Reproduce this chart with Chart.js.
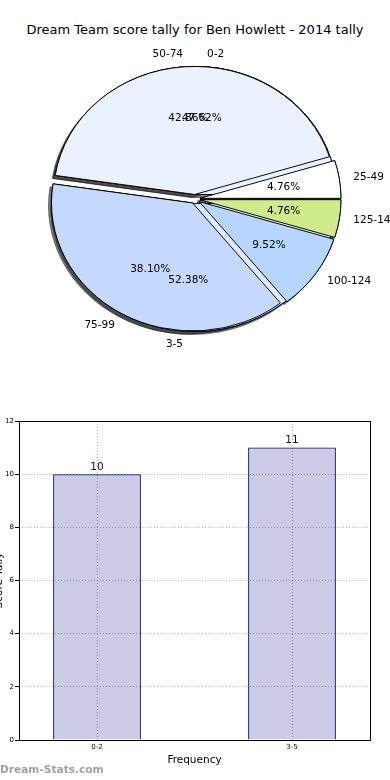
<!DOCTYPE html>
<html>
<head>
<meta charset="utf-8">
<script src="https://cdn.jsdelivr.net/npm/chart.js@4"></script>
<style>
  html, body { margin: 0; padding: 0; width: 390px; height: 780px; overflow: hidden; background: #fff; font-family: "DejaVu Sans", sans-serif; }
  #title { position: absolute; left: 0; top: 22px; width: 390px; text-align: center; font-size: 13px; line-height: 16px; color: #000; }
  #innerPie, #outerPie { position: absolute; left: 0; top: 40px; }
  #innerPie { visibility: hidden; }
  #bars { position: absolute; left: -11px; top: 405px; }
  #mark { position: absolute; left: 0; top: 763px; font-size: 10.6px; line-height: 13px; font-weight: bold; color: #a0a0a0; }
</style>
</head>
<body>
<div id="title">Dream Team score tally for Ben Howlett - 2014 tally</div>
<canvas id="innerPie" width="390" height="318"></canvas>
<canvas id="outerPie" width="390" height="318"></canvas>
<canvas id="bars" width="400" height="375"></canvas>
<div id="mark">Dream-Stats.com</div>
<script>
// score ranges (counterclockwise from 3 o'clock, like the original)
const rangeLabels = ["25-49", "50-74", "75-99", "100-124", "125-149"];
const rangeCounts = [1, 9, 8, 2, 1];
const rangeColors = ["#ffffff", "#eaf1ff", "#c5d9ff", "#b5d6ff", "#cfeb8a"];

// frequency bins
const binLabels = ["0-2", "3-5"];
const binCounts = [10, 11];
const binColors = ["#eaf1ff", "#e2eaff"];

const FONT = "DejaVu Sans";
const PIE_R = 141;      // horizontal radius
const PIE_SY = 0.908;   // pie is squashed a bit vertically
const EXPLODE = 5;

const rev = a => a.slice().reverse();

// chart.js goes clockwise, so reverse the order and start at 3 o'clock
function pieConfig(labels, counts, colors, plugins) {
    return {
        type: "pie",
        data: {
            labels: rev(labels),
            datasets: [{
                data: rev(counts),
                backgroundColor: rev(colors),
                borderColor: "#000",
                borderWidth: 1,
            }],
        },
        options: {
            responsive: false,
            animation: false,
            events: [],
            rotation: 90,
            radius: PIE_R,
            layout: { padding: 0 },
            plugins: { legend: { display: false }, tooltip: { enabled: false } },
        },
        plugins: plugins || [],
    };
}

function drawWedges(ctx, arcs, shadow) {
    arcs.forEach((arc) => {
        const mid = (arc.startAngle + arc.endAngle) / 2;
        ctx.save();
        ctx.translate(arc.x, arc.y);
        ctx.scale(1, PIE_SY);
        ctx.translate(-arc.x, -arc.y);
        ctx.translate(Math.cos(mid) * EXPLODE, Math.sin(mid) * EXPLODE);
        if (shadow) {
            ctx.shadowColor = "rgba(30,30,30,0.55)";
            ctx.shadowOffsetX = -3;
            ctx.shadowOffsetY = 3;
        }
        arc.draw(ctx);
        ctx.restore();
    });
}

function pieText(ctx, chart) {
    const arcs = chart.getDatasetMeta(0).data;
    const labels = chart.data.labels;
    const values = chart.data.datasets[0].data;
    const total = values.reduce((a, b) => a + b, 0);
    arcs.forEach((arc, i) => {
        const mid = (arc.startAngle + arc.endAngle) / 2;
        const c = Math.cos(mid), s = Math.sin(mid);
        const at = (k) => {
            const d = EXPLODE + k * arc.outerRadius;
            return [arc.x + d * c, arc.y + d * s * PIE_SY];
        };
        let [x, y] = at(1.1);
        ctx.textAlign = c > 0 ? "left" : "right";
        ctx.fillText(labels[i], x, y);
        [x, y] = at(0.6);
        ctx.textAlign = "center";
        ctx.fillText((values[i] / total * 100).toFixed(2) + "%", x, y);
    });
}

const innerChart = new Chart(document.getElementById("innerPie"),
    pieConfig(binLabels, binCounts, binColors));

const mplPie = {
    id: "mplPie",
    beforeDatasetsDraw(chart) {
        const ctx = chart.ctx;
        const inner = innerChart.getDatasetMeta(0).data;
        const outer = chart.getDatasetMeta(0).data;
        drawWedges(ctx, inner, true);
        drawWedges(ctx, outer, true);
        drawWedges(ctx, inner, false);
        drawWedges(ctx, outer, false);
        return false;
    },
    afterDraw(chart) {
        const ctx = chart.ctx;
        ctx.save();
        ctx.font = "10.5px '" + FONT + "'";
        ctx.fillStyle = "#000";
        ctx.textBaseline = "middle";
        pieText(ctx, chart);
        pieText(ctx, innerChart);
        ctx.restore();
    },
};

new Chart(document.getElementById("outerPie"),
    pieConfig(rangeLabels, rangeCounts, rangeColors, [mplPie]));

// ---- bar chart ----
const frame = {
    id: "frame",
    afterDraw(chart) {
        const { ctx, chartArea: a } = chart;
        ctx.save();
        ctx.strokeStyle = "#000";
        ctx.lineWidth = 1;
        ctx.strokeRect(a.left + 0.5, a.top + 0.5, a.right - a.left, a.bottom - a.top);
        ctx.restore();
    },
};

const barValues = {
    id: "barValues",
    afterDraw(chart) {
        const ctx = chart.ctx;
        ctx.save();
        ctx.font = "10.5px '" + FONT + "'";
        ctx.fillStyle = "#000080";
        ctx.textAlign = "center";
        ctx.textBaseline = "bottom";
        chart.getDatasetMeta(0).data.forEach((bar, i) => {
            ctx.fillText(String(binCounts[i]), bar.x, bar.y - 2);
        });
        ctx.restore();
    },
};

const gridColor = "rgba(0,0,0,0.32)";

new Chart(document.getElementById("bars"), {
    type: "bar",
    data: {
        datasets: [{
            data: binLabels.map((l, i) => ({ x: i, y: binCounts[i] })),
            backgroundColor: "rgba(0,0,128,0.2)",
            borderColor: "#000080",
            borderWidth: 1,
            barPercentage: 0.45,
            categoryPercentage: 1,
        }],
    },
    options: {
        responsive: false,
        animation: false,
        events: [],
        layout: { padding: { top: 16, right: 19, bottom: 0, left: 0 } },
        plugins: { legend: { display: false }, tooltip: { enabled: false } },
        scales: {
            x: {
                type: "linear",
                min: -0.4,
                max: 1.4,
                offset: false,
                z: 1,
                afterBuildTicks: (s) => { s.ticks = binLabels.map((l, i) => ({ value: i })); },
                afterFit: (s) => { s.height = 40; },
                ticks: {
                    callback: (v) => binLabels[v],
                    font: { family: FONT, size: 7 },
                    color: "#000",
                    padding: 3,
                    maxRotation: 0,
                },
                grid: { color: gridColor, drawTicks: false, offset: false },
                border: { display: false, dash: [1, 2] },
                title: {
                    display: true,
                    text: "Frequency",
                    font: { family: FONT, size: 10.5 },
                    color: "#000",
                    padding: { top: 0, bottom: 13 },
                },
            },
            y: {
                min: 0,
                max: 12,
                z: 1,
                afterFit: (s) => { s.width = 30; },
                ticks: {
                    stepSize: 2,
                    font: { family: FONT, size: 7 },
                    color: "#000",
                    padding: 1,
                },
                grid: { color: gridColor, tickLength: 4, tickColor: "#000", tickBorderDash: [] },
                border: { display: false, dash: [1, 2] },
                title: {
                    display: true,
                    text: "Score Tally",
                    font: { family: FONT, size: 10.5 },
                    color: "#000",
                    padding: { top: 4, bottom: 4 },
                },
            },
        },
    },
    plugins: [frame, barValues],
});
</script>
</body>
</html>
